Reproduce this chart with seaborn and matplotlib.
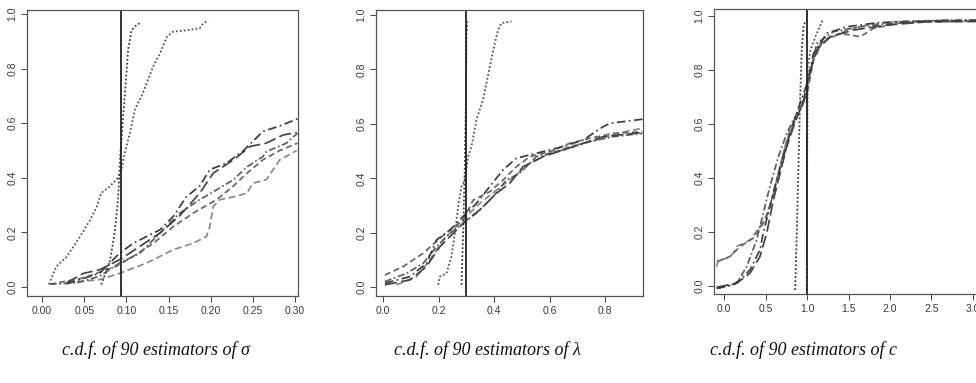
import matplotlib
matplotlib.use("Agg")
import matplotlib.pyplot as plt
import seaborn as sns
import pandas as pd

sns.set_style("white")

# ---------------- Panel 1: sigma ----------------
s_dotA_x = [0.070, 0.080, 0.086, 0.090, 0.093, 0.096, 0.099, 0.102, 0.106, 0.112, 0.118]
s_dotA_y = [0.009, 0.088, 0.198, 0.320, 0.500, 0.620, 0.740, 0.870, 0.940, 0.960, 0.970]
s_dotB_x = [0.008, 0.017, 0.029, 0.045, 0.057, 0.065, 0.070, 0.080, 0.090, 0.094, 0.098, 0.104,
            0.110, 0.118, 0.124, 0.132, 0.140, 0.148, 0.155, 0.171, 0.187, 0.191, 0.197]
s_dotB_y = [0.010, 0.076, 0.110, 0.185, 0.246, 0.295, 0.344, 0.368, 0.400, 0.430, 0.490, 0.563,
            0.650, 0.700, 0.746, 0.810, 0.856, 0.917, 0.935, 0.940, 0.948, 0.966, 0.976]
s_C_x = [0.029, 0.068, 0.092, 0.108, 0.124, 0.140, 0.156, 0.171, 0.187, 0.199, 0.219, 0.239, 0.262, 0.282, 0.303]
s_C_y = [0.012, 0.050, 0.124, 0.160, 0.185, 0.210, 0.260, 0.330, 0.370, 0.430, 0.454, 0.500, 0.570, 0.590, 0.616]
s_D_x = [0.029, 0.049, 0.068, 0.092, 0.116, 0.140, 0.163, 0.187, 0.203, 0.227, 0.247, 0.266, 0.286, 0.302]
s_D_y = [0.015, 0.050, 0.063, 0.100, 0.149, 0.198, 0.260, 0.344, 0.417, 0.466, 0.515, 0.527, 0.557, 0.566]
s_E_x = [0.009, 0.041, 0.068, 0.092, 0.116, 0.140, 0.163, 0.187, 0.207, 0.227, 0.243, 0.262, 0.266, 0.290, 0.298, 0.303]
s_E_y = [0.010, 0.015, 0.039, 0.088, 0.124, 0.198, 0.270, 0.320, 0.356, 0.393, 0.440, 0.478, 0.496, 0.527, 0.550, 0.563]
s_F_x = [0.009, 0.049, 0.088, 0.108, 0.132, 0.156, 0.179, 0.207, 0.227, 0.243, 0.262, 0.282, 0.303]
s_F_y = [0.010, 0.033, 0.076, 0.112, 0.160, 0.222, 0.270, 0.320, 0.370, 0.417, 0.466, 0.500, 0.527]
s_G_x = [0.029, 0.068, 0.092, 0.124, 0.156, 0.179, 0.195, 0.199, 0.203, 0.211, 0.227, 0.243, 0.250, 0.266, 0.282, 0.302]
s_G_y = [0.015, 0.027, 0.050, 0.088, 0.137, 0.160, 0.185, 0.222, 0.295, 0.320, 0.330, 0.344, 0.380, 0.393, 0.466, 0.500]
sigma_true = 0.093
sigma_ticks = [0.00, 0.05, 0.10, 0.15, 0.20, 0.25, 0.30]
sigma_ticklabels = ["0.00", "0.05", "0.10", "0.15", "0.20", "0.25", "0.30"]

# ---------------- Panel 2: lambda ----------------
l_dotA_x = [0.282, 0.288, 0.294, 0.298, 0.300, 0.303]
l_dotA_y = [0.009, 0.198, 0.443, 0.688, 0.933, 0.976]
l_dotB_x = [0.198, 0.204, 0.228, 0.246, 0.258, 0.270, 0.282, 0.294, 0.306, 0.318, 0.336, 0.360,
            0.384, 0.402, 0.414, 0.426, 0.462]
l_dotB_y = [0.009, 0.039, 0.051, 0.113, 0.198, 0.296, 0.370, 0.394, 0.480, 0.517, 0.616, 0.690,
            0.810, 0.896, 0.945, 0.970, 0.976]
l_1_x = [0.006, 0.072, 0.144, 0.204, 0.240, 0.288, 0.324, 0.384, 0.432, 0.480, 0.529, 0.600, 0.673, 0.745, 0.829, 0.934]
l_1_y = [0.045, 0.076, 0.125, 0.180, 0.210, 0.247, 0.320, 0.351, 0.394, 0.443, 0.480, 0.498, 0.529, 0.547, 0.565, 0.571]
l_2_x = [0.006, 0.096, 0.156, 0.192, 0.240, 0.288, 0.336, 0.384, 0.432, 0.480, 0.552, 0.649, 0.721, 0.793, 0.817, 0.934]
l_2_y = [0.015, 0.039, 0.088, 0.174, 0.210, 0.260, 0.308, 0.370, 0.431, 0.474, 0.492, 0.517, 0.541, 0.590, 0.602, 0.617]
l_3_x = [0.006, 0.096, 0.156, 0.204, 0.252, 0.300, 0.348, 0.408, 0.456, 0.504, 0.577, 0.649, 0.721, 0.793, 0.934]
l_3_y = [0.009, 0.027, 0.076, 0.149, 0.198, 0.247, 0.284, 0.345, 0.382, 0.443, 0.480, 0.504, 0.529, 0.553, 0.568]
l_4_x = [0.006, 0.084, 0.144, 0.192, 0.240, 0.288, 0.336, 0.396, 0.444, 0.492, 0.552, 0.649, 0.745, 0.829, 0.934]
l_4_y = [0.021, 0.051, 0.088, 0.149, 0.198, 0.235, 0.272, 0.333, 0.394, 0.419, 0.480, 0.504, 0.535, 0.553, 0.565]
l_5_x = [0.048, 0.120, 0.168, 0.216, 0.264, 0.300, 0.348, 0.408, 0.456, 0.529, 0.600, 0.673, 0.769, 0.841, 0.934]
l_5_y = [0.009, 0.039, 0.100, 0.174, 0.223, 0.260, 0.308, 0.357, 0.394, 0.455, 0.492, 0.517, 0.541, 0.565, 0.584]
lambda_true = 0.30
lambda_ticks = [0.0, 0.2, 0.4, 0.6, 0.8]
lambda_ticklabels = ["0.0", "0.2", "0.4", "0.6", "0.8"]

# ---------------- Panel 3: c ----------------
c_dotA_x = [0.855, 0.875, 0.895, 0.915, 0.935, 0.956, 0.976]
c_dotA_y = [-0.016, 0.194, 0.441, 0.688, 0.874, 0.960, 0.979]
c_dotB_x = [0.995, 1.000, 1.008, 1.040, 1.100, 1.190]
c_dotB_y = [-0.016, 0.440, 0.810, 0.874, 0.923, 0.988]
c_1_x = [-0.093, -0.073, 0.028, 0.109, 0.149, 0.310, 0.431, 0.512, 0.593, 0.673, 0.754, 0.835, 0.956,
         1.016, 1.077, 1.157, 1.319, 1.480, 1.720, 2.040, 2.450, 3.400]
c_1_y = [0.070, 0.095, 0.101, 0.120, 0.145, 0.169, 0.219, 0.256, 0.342, 0.441, 0.540, 0.602, 0.676,
         0.763, 0.849, 0.899, 0.923, 0.948, 0.966, 0.979, 0.983, 0.983]
c_2_x = [-0.085, 0.069, 0.190, 0.350, 0.470, 0.550, 0.633, 0.714, 0.794, 0.915, 1.000, 1.077, 1.198,
         1.400, 1.640, 1.800, 2.130, 2.650, 3.400]
c_2_y = [0.089, 0.108, 0.145, 0.176, 0.231, 0.293, 0.392, 0.491, 0.577, 0.651, 0.713, 0.836, 0.911,
         0.936, 0.923, 0.954, 0.975, 0.979, 0.983]
c_3_x = [-0.093, 0.109, 0.230, 0.310, 0.390, 0.431, 0.470, 0.550, 0.633, 0.714, 0.794, 0.915, 1.000,
         1.077, 1.238, 1.480, 1.843, 2.246, 3.400]
c_3_y = [-0.010, 0.002, 0.033, 0.058, 0.108, 0.132, 0.194, 0.293, 0.392, 0.478, 0.565, 0.676, 0.750,
         0.861, 0.936, 0.960, 0.975, 0.980, 0.985]
c_4_x = [-0.093, 0.149, 0.310, 0.431, 0.512, 0.593, 0.673, 0.754, 0.835, 0.956, 1.016, 1.117, 1.278,
         1.560, 1.960, 2.450, 3.400]
c_4_y = [-0.006, 0.009, 0.046, 0.108, 0.194, 0.318, 0.416, 0.515, 0.589, 0.688, 0.775, 0.874, 0.923,
         0.948, 0.966, 0.979, 0.980]
c_5_x = [-0.073, 0.149, 0.270, 0.390, 0.470, 0.550, 0.653, 0.754, 0.875, 0.976, 1.036, 1.117, 1.319,
         1.640, 2.040, 2.650, 3.400]
c_5_y = [-0.010, 0.009, 0.070, 0.169, 0.268, 0.367, 0.478, 0.565, 0.639, 0.688, 0.787, 0.899, 0.942,
         0.960, 0.973, 0.985, 0.985]
c_true = 1.0
c_ticks = [0.0, 0.5, 1.0, 1.5, 2.0, 2.5, 3.0]
c_ticklabels = ["0.0", "0.5", "1.0", "1.5", "2.0", "2.5", "3.0"]

y_ticks = [0.0, 0.2, 0.4, 0.6, 0.8, 1.0]
y_ticklabels = ["0.0", "0.2", "0.4", "0.6", "0.8", "1.0"]

captions = ["c.d.f. of 90 estimators of σ",
            "c.d.f. of 90 estimators of λ",
            "c.d.f. of 90 estimators of c"]

# styles (color, dash pattern, linewidth)
STY = {
    "dotA": ("#3a3a3a", (0, (1, 1.2)), 1.3),
    "dotB": ("#555555", (0, (1, 1.2)), 1.3),
    "dashdot_dark": ("#3c3c3c", (0, (5, 2, 1, 2)), 1.25),
    "longdash_dark": ("#444444", (0, (7, 2.5)), 1.25),
    "dashdot_mid": ("#5e5e5e", (0, (4, 1.5, 1, 1.5)), 1.25),
    "dash_mid": ("#666666", (0, (3.5, 2)), 1.25),
    "dash_light": ("#8a8a8a", (0, (4, 2)), 1.25),
}

panels = [
    dict(rect=[27/976, 1-296/383, 271/976, 286/383], xlim=(-0.018, 0.3036), ylim=(-0.033, 1.0147),
         truth=sigma_true, ticks=sigma_ticks, labels=sigma_ticklabels,
         lines=[(s_G_x, s_G_y, "dash_light"), (s_F_x, s_F_y, "dash_mid"), (s_E_x, s_E_y, "dashdot_mid"),
                (s_D_x, s_D_y, "longdash_dark"), (s_C_x, s_C_y, "dashdot_dark"),
                (s_dotB_x, s_dotB_y, "dotB"), (s_dotA_x, s_dotA_y, "dotA")]),
    dict(rect=[376/976, 1-296/383, 267/976, 286/383], xlim=(-0.026, 0.936), ylim=(-0.032, 1.018),
         truth=lambda_true, ticks=lambda_ticks, labels=lambda_ticklabels,
         lines=[(l_5_x, l_5_y, "dash_light"), (l_1_x, l_1_y, "dash_mid"), (l_4_x, l_4_y, "dashdot_mid"),
                (l_3_x, l_3_y, "longdash_dark"), (l_2_x, l_2_y, "dashdot_dark"),
                (l_dotB_x, l_dotB_y, "dotB"), (l_dotA_x, l_dotA_y, "dotA")]),
    dict(rect=[714/976, 1-294/383, 300/976, 285/383], xlim=(-0.124, 3.497), ylim=(-0.031, 1.026),
         truth=c_true, ticks=c_ticks, labels=c_ticklabels,
         lines=[(c_1_x, c_1_y, "dash_light"), (c_2_x, c_2_y, "dash_mid"), (c_5_x, c_5_y, "dashdot_mid"),
                (c_4_x, c_4_y, "longdash_dark"), (c_3_x, c_3_y, "dashdot_dark"),
                (c_dotB_x, c_dotB_y, "dotB"), (c_dotA_x, c_dotA_y, "dotA")]),
]

fig = plt.figure(figsize=(9.76, 3.83), dpi=100)
fig.patch.set_facecolor("white")

tickfont = dict(family=["Liberation Sans", "DejaVu Sans"], size=7.5, color="#3a3a3a")

for p in panels:
    ax = fig.add_axes(p["rect"])
    for xs, ys, key in p["lines"]:
        col, dash, lw = STY[key]
        df = pd.DataFrame({"x": xs, "y": ys})
        sns.lineplot(data=df, x="x", y="y", ax=ax, sort=False, estimator=None,
                     color=col, linewidth=lw, linestyle=dash)
    ax.axvline(p["truth"], color="#222222", linewidth=1.3)
    ax.set_xlim(*p["xlim"])
    ax.set_ylim(*p["ylim"])
    ax.set_xticks(p["ticks"])
    ax.set_xticklabels(p["labels"], fontdict=tickfont)
    ax.set_yticks(y_ticks)
    ax.set_yticklabels(y_ticklabels, fontdict=tickfont, rotation=90, va="center")
    ax.tick_params(axis="both", direction="out", length=4, width=0.7, color="#444444",
                   bottom=True, left=True, pad=3)
    ax.set_xlabel("")
    ax.set_ylabel("")
    for sp in ax.spines.values():
        sp.set_color("#555555")
        sp.set_linewidth(0.9)
    ax.grid(False)

caption_x = [156/976, 487/976, 803/976]
for cx, txt in zip(caption_x, captions):
    fig.text(cx, 1-350/383, txt, ha="center", va="center", style="italic",
             family=["Liberation Serif", "DejaVu Serif"], size=13, color="#111111")

fig.savefig("out.png", dpi=100, facecolor="white")
